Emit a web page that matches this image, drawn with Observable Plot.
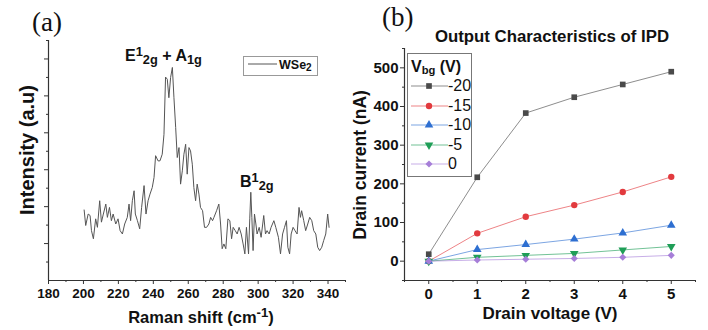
<!DOCTYPE html>
<html><head><meta charset="utf-8">
<script src="https://cdn.jsdelivr.net/npm/d3@7"></script>
<script src="https://cdn.jsdelivr.net/npm/@observablehq/plot@0.6"></script>
<style>
body{margin:0;background:#fff;}
#root{position:relative;width:708px;height:330px;overflow:hidden;font-family:"Liberation Sans",Arial,sans-serif;color:#111;}
.abs{position:absolute;white-space:nowrap;line-height:1;}
.b{font-weight:bold;}
.up{position:relative;top:-0.42em;font-size:0.8em;}
.dn{position:relative;top:0.22em;font-size:0.8em;}
.panel{position:absolute;top:0;}
</style></head><body><div id="root"></div>
<script>
// ---- Panel (a): Raman spectrum of WSe2 ----
const ramanShift = [200.4,201.3,202.7,203.8,204.6,205.7,207,208,209.3,210.3,
211.4,212.8,213.7,214.9,216,217,218.5,219.8,221,222.3,
223.6,225.1,226.1,227,228,229,229.7,230.9,232.2,233.3,
234.7,235.8,237,238.1,239.4,240.4,241.3,242.7,243.8,245.1,
246.1,247,248,248.9,249.9,250.9,251.8,252.8,253.7,254.7,
255.6,256.6,257.5,258.5,259.4,260.4,261.3,262.3,263.2,264.2,
265.1,266.1,267,268.2,269.3,270.5,271.8,272.8,273.9,274.7,
276.2,277.5,278.5,279.4,280.4,281.5,282.7,283.8,284.8,285.7,
286.9,288,289.1,290.3,291.4,292.4,293.3,294.5,295.2,295.8,
296.4,297.1,297.9,298.7,299.4,300.6,301.7,303.2,304.2,305.1,
306.3,307.4,309,310.1,311.6,312.8,314,315.1,316.2,317,
318,318.9,320,321.1,322.3,323.4,324.2,324.9,326.1,327.2,
328.4,329.5,330.7,331.8,333,334.1,335.2,336.4,337.5,338.7,
339.8,340.6];
const ramanIntensity = [1.91,1.49,1.80,1.76,1.35,1.13,1.67,1.44,2.16,1.58,
1.80,2.07,1.71,1.98,1.62,1.80,1.53,1.67,1.35,1.26,
1.53,1.71,2.07,1.62,2.16,2.43,1.80,1.62,1.40,1.98,
2.57,1.80,2.16,2.34,2.52,2.79,3.38,3.24,3.24,3.42,
3.96,5.51,5.45,4.95,5.50,5.77,4.95,4.14,3.33,3.60,
2.61,2.97,3.42,3.69,2.88,3.60,3.51,3.15,2.52,2.16,
2.61,2.34,1.98,1.89,1.44,1.44,1.53,1.71,1.62,1.71,
1.89,2.07,1.53,0.86,0.99,0.86,1.67,1.62,1.13,1.44,
1.35,1.26,1.44,1.26,0.99,0.72,1.44,0.72,1.67,2.39,
1.71,0.81,1.80,1.53,1.26,1.44,1.17,1.76,1.26,1.35,
1.26,1.44,1.62,1.44,1.17,0.72,1.26,1.44,1.62,0.90,
0.72,1.26,1.44,1.35,1.26,1.98,1.71,1.89,1.62,1.35,
1.53,1.71,1.62,1.35,1.26,0.90,0.81,0.90,1.08,1.26,
1.80,1.44];
const ramanTicks = [180,200,220,240,260,280,300,320,340];
const ramanMinorTicks = [190,210,230,250,270,290,310,330,350];
const intensityTicks = [1,2,3,4,5,6];
const intensityMinorTicks = [0.5,1.5,2.5,3.5,4.5,5.5,6.5];

// ---- Panel (b): output characteristics ----
const drainVoltage = [0,1,2,3,4,5];
const gateVoltages = ["-20","-15","-10","-5","0"];
const current_m20 = [18,217,383,424,457,490];
const current_m15 = [0,72,115,145,179,218];
const current_m10 = [0,30,43,57,73,93];
const current_m5  = [0,10,15,20,29,38];
const current_0   = [0,3,5,7,10,15];
const currentTicks = [0,100,200,300,400,500];
const currentMinorTicks = [-50,50,150,250,350,450,550];
const voltageTicks = [0,1,2,3,4,5];
const voltageMinorTicks = [-0.5,0.5,1.5,2.5,3.5,4.5,5.5];
const seriesColors = ["#4a4a4a","#e23a3e","#2e6fd1","#1f9e57","#a67ed8"];

const font = "Liberation Sans, Arial, sans-serif";
const root = document.getElementById("root");

// ---------- Plot A ----------
const rowsA = ramanShift.map((x, i) => ({x, y: ramanIntensity[i]}));
const plotA = Plot.plot({
  width: 360, height: 330,
  marginLeft: 48, marginRight: 15, marginTop: 40, marginBottom: 50,
  x: {domain: [180, 350]},
  y: {domain: [0, 6.5]},
  style: {fontFamily: font, fontSize: "13.5px", fontWeight: "bold", color: "#111", background: "transparent", overflow: "visible"},
  marks: [
    Plot.axisX({ticks: ramanTicks, tickSize: 4, tickPadding: 4, tickFormat: d => d, label: null, stroke: "#333", fontWeight: "bold", fontSize: 13.5, fill: "#111"}),
    Plot.axisX({ticks: ramanMinorTicks, tickSize: 2, tickFormat: () => "", label: null, stroke: "#333"}),
    Plot.axisY({ticks: intensityTicks, tickSize: 4, tickFormat: () => "", label: null, stroke: "#333"}),
    Plot.axisY({ticks: intensityMinorTicks, tickSize: 2, tickFormat: () => "", label: null, stroke: "#333"}),
    Plot.ruleY([0], {stroke: "#333", strokeWidth: 1.2}),
    Plot.ruleX([180], {stroke: "#333", strokeWidth: 1.2}),
    Plot.line(rowsA, {x: "x", y: "y", stroke: "#555", strokeWidth: 1})
  ]
});
plotA.classList.add("panel");
plotA.style.left = "0px";
root.appendChild(plotA);

// ---------- Plot B ----------
const seriesValues = [current_m20, current_m15, current_m10, current_m5, current_0];
const rowsB = gateVoltages.flatMap((g, k) => drainVoltage.map((v, i) => ({g, v, c: seriesValues[k][i]})));
const triangleDown = {
  draw(ctx, size) {
    const s3 = Math.sqrt(3);
    const y = -Math.sqrt(size / (s3 * 3));
    ctx.moveTo(0, -y * 2);
    ctx.lineTo(-s3 * y, y);
    ctx.lineTo(s3 * y, y);
    ctx.closePath();
  }
};
const seriesSymbols = [d3.symbolSquare, d3.symbolCircle, d3.symbolTriangle, triangleDown, d3.symbolDiamond2];
const plotB = Plot.plot({
  width: 368, height: 330,
  marginLeft: 64, marginRight: 13, marginTop: 48, marginBottom: 50,
  x: {domain: [-0.5, 5.5]},
  y: {domain: [-50, 550]},
  color: {domain: gateVoltages, range: seriesColors},
  symbol: {domain: gateVoltages, range: seriesSymbols},
  style: {fontFamily: font, fontSize: "15px", fontWeight: "bold", color: "#111", background: "transparent", overflow: "visible"},
  marks: [
    Plot.axisX({ticks: voltageTicks, tickSize: 4, tickPadding: 4, tickFormat: d => d, label: null, stroke: "#333", fontWeight: "bold", fontSize: 15, fill: "#111"}),
    Plot.axisX({ticks: voltageMinorTicks, tickSize: 2, tickFormat: () => "", label: null, stroke: "#333"}),
    Plot.axisY({ticks: currentTicks, tickSize: 4, tickPadding: 2, tickFormat: d => d, label: null, stroke: "#333", fontWeight: "bold", fontSize: 15, fill: "#111"}),
    Plot.axisY({ticks: currentMinorTicks, tickSize: 2, tickFormat: () => "", label: null, stroke: "#333"}),
    Plot.ruleY([-50], {stroke: "#333", strokeWidth: 1.2}),
    Plot.ruleX([-0.5], {stroke: "#333", strokeWidth: 1.2}),
    Plot.line(rowsB, {x: "v", y: "c", z: "g", stroke: "g", strokeWidth: 0.9, strokeOpacity: 0.7}),
    Plot.dot(rowsB, {x: "v", y: "c", symbol: "g", fill: "g", stroke: "none", r: 3.2})
  ]
});
plotB.classList.add("panel");
plotB.style.left = "340px";
root.appendChild(plotB);

// ---------- text overlays ----------
function addText(html, css) {
  const d = document.createElement("div");
  d.className = "abs";
  d.innerHTML = html;
  Object.assign(d.style, css);
  root.appendChild(d);
  return d;
}
addText("(a)", {left: "32px", top: "9px", fontFamily: "Liberation Serif, Times New Roman, serif", fontSize: "27px"});
addText("(b)", {left: "382px", top: "4px", fontFamily: "Liberation Serif, Times New Roman, serif", fontSize: "27px"});
addText("Output Characteristics of IPD", {left: "552px", top: "29px", transform: "translateX(-50%)", fontSize: "16.8px", fontWeight: "bold"});

addText('E<span class="up">1</span><span class="dn">2g</span> + A<span class="dn">1g</span>', {left: "125px", top: "48px", fontSize: "16px", fontWeight: "bold"});
addText('B<span class="up">1</span><span class="dn">2g</span>', {left: "240px", top: "174px", fontSize: "16px", fontWeight: "bold"});

addText('Raman shift (cm<span class="up">-1</span>)', {left: "201px", top: "309px", transform: "translateX(-50%)", fontSize: "16.5px", fontWeight: "bold"});
addText('Intensity (a.u)', {left: "27px", top: "150px", transform: "translate(-50%,-50%) rotate(-90deg)", fontSize: "20px", fontWeight: "bold"});
addText('Drain current (nA)', {left: "361px", top: "165px", transform: "translate(-50%,-50%) rotate(-90deg)", fontSize: "17.5px", fontWeight: "bold"});
addText('Drain voltage (V)', {left: "550px", top: "305px", transform: "translateX(-50%)", fontSize: "17px", fontWeight: "bold"});

// legend (a)
const legA = addText('', {left: "243px", top: "56px", width: "75px", height: "20px", border: "1px solid #999", boxSizing: "border-box"});
legA.innerHTML = '<svg width="33" height="18" style="position:absolute;left:2px;top:0"><line x1="2" x2="31" y1="7" y2="7" stroke="#555" stroke-width="1"/></svg>' +
  '<span class="b" style="position:absolute;left:35px;top:2px;font-size:12.5px;">WSe<span class="dn">2</span></span>';

// legend (b)
const legB = addText('', {left: "407px", top: "53px", width: "65px", height: "124px", border: "1px solid #777", boxSizing: "border-box", background: "#fff"});
const hdr = document.createElement("div");
hdr.className = "abs b";
hdr.style.cssText = "left:3px;top:5px;font-size:16px;";
hdr.innerHTML = 'V<span class="dn" style="font-size:0.7em">bg</span> (V)';
legB.appendChild(hdr);
gateVoltages.forEach((g, k) => {
  const yc = 32 + k * 19.6;
  const svg = d3.create("svg").attr("width", 40).attr("height", 14)
    .style("position", "absolute").style("left", "2px").style("top", (yc - 7) + "px");
  svg.append("line").attr("x1", 1).attr("x2", 38).attr("y1", 7).attr("y2", 7)
    .attr("stroke", seriesColors[k]).attr("stroke-opacity", 0.7).attr("stroke-width", 0.9);
  svg.append("path").attr("transform", "translate(19,7)")
    .attr("d", d3.symbol().type(seriesSymbols[k]).size(Math.PI * 3.2 * 3.2)())
    .attr("fill", seriesColors[k]);
  legB.appendChild(svg.node());
  const t = document.createElement("div");
  t.className = "abs";
  t.style.cssText = `left:40px;top:${yc - 8}px;font-size:16px;`;
  t.textContent = g;
  legB.appendChild(t);
});
</script>
</body></html>
